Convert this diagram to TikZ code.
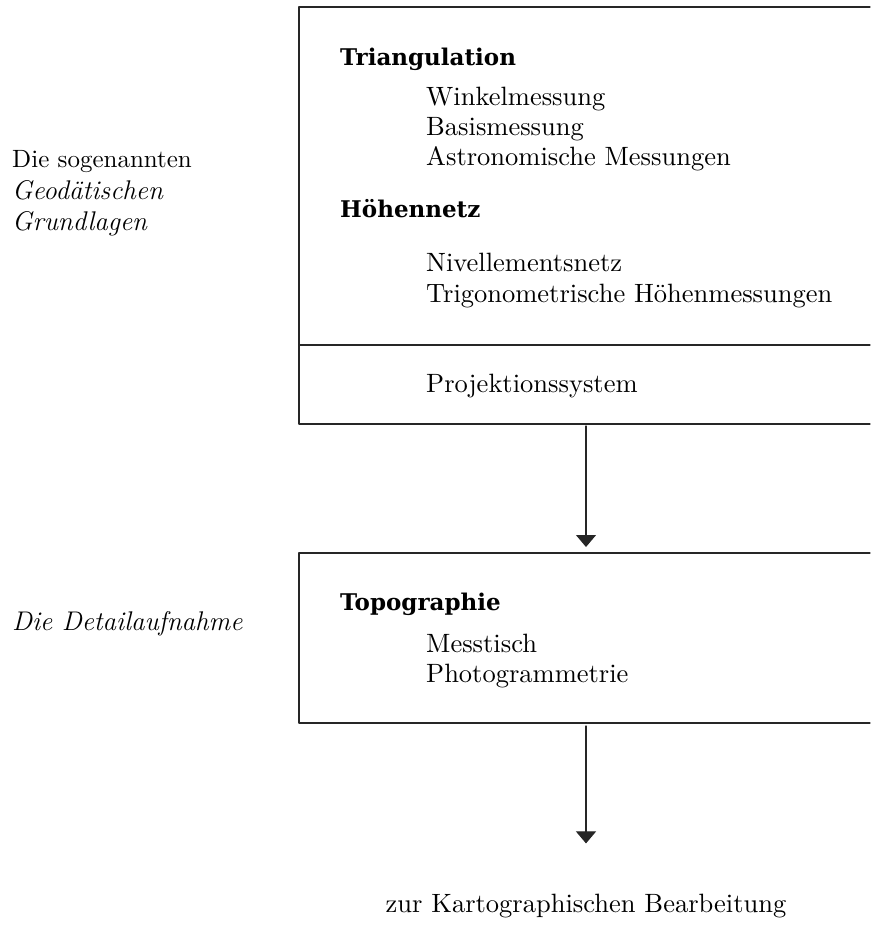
\documentclass[tikz,border=0pt]{standalone}
\usepackage{fontspec}
\newfontfamily\headfont{DejaVu Serif}
\newfontfamily\bookfont{lmroman10-regular.otf}
\usetikzlibrary{arrows.meta}

\tikzset{
  rule/.style={line width=1.2pt,black!85},
  flow/.style={line width=1.1pt,black!85,-{Triangle[width=20pt,length=12pt]}},
  item/.style={anchor=base west,inner sep=0pt,font=\bookfont\fontsize{26.5}{32}\selectfont},
  side/.style={anchor=base west,inner sep=0pt,font=\fontsize{27}{32}\selectfont},
  head/.style={anchor=base west,inner sep=0pt,font=\headfont\bfseries\fontsize{23}{27}\selectfont},
}

\begin{document}
\begin{tikzpicture}[line cap=round,line join=round,x=1pt,y=-1pt]
  \useasboundingbox (0,0) rectangle (870,942);
  % Rahmen
  \draw[rule] (870,7) -- (299,7) -- (299,424) -- (870,424);
  \draw[rule] (299,345) -- (870,345);
  \draw[rule] (870,553) -- (299,553) -- (299,723) -- (870,723);
  \coordinate (grund) at (586,426);
  \coordinate (detail-top) at (586,547);
  \coordinate (detail) at (586,726);
  % linke Spalte
  \node[side,font=\bookfont\fontsize{25}{30}\selectfont] (die) at (12,167) {Die sogenannten};
  \node[side] (geo) at (12,199) {\itshape Geodätischen};
  \node[side] (grl) at (12,230) {\itshape Grundlagen};
  \node[side] (dau) at (12,630) {\itshape Die Detailaufnahme};
  % Grundlagen
  \node[head] (tri) at (340,66) {Triangulation};
  \node[item] (win) at (426,105) {Winkelmessung};
  \node[item] (bas) at (426,135) {Basismessung};
  \node[item] (ast) at (426,165) {Astronomische Messungen};
  \node[head] (hoe) at (340,217) {Höhennetz};
  \node[item] (niv) at (426,271) {Nivellementsnetz};
  \node[item] (trg) at (426,302) {Trigonometrische Höhenmessungen};
  \node[item] (pro) at (426,392) {Projektionssystem};
  % Detailaufnahme
  \node[head] (top) at (340,610) {Topographie};
  \node[item] (mes) at (426,652) {Messtisch};
  \node[item] (pho) at (426,682) {Photogrammetrie};
  % Ziel
  \node[item,anchor=base] (kar) at (586,912) {zur Kartographischen Bearbeitung};
  \draw[flow] (grund) -- (detail-top);
  \draw[flow,shorten >=50pt] (detail) -- (kar.north);
\end{tikzpicture}
\end{document}
